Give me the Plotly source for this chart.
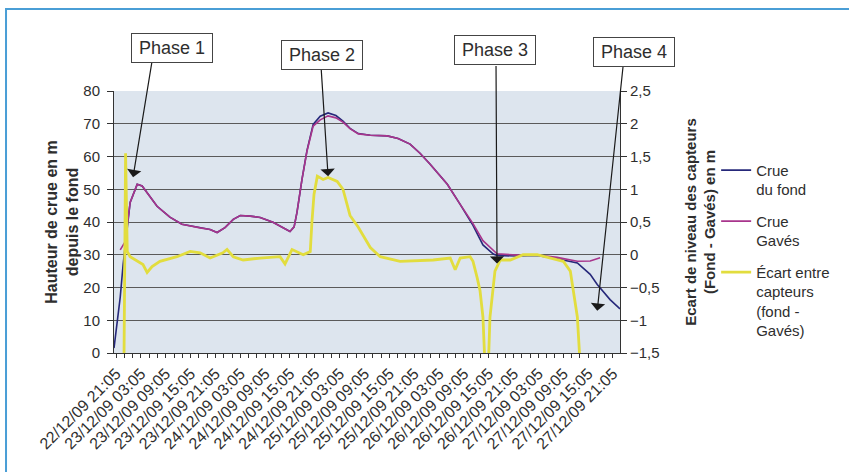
import plotly.graph_objects as go

# x positions: hours elapsed since 22/12/09 21:05
tick_labels = ["22/12/09 21:05", "23/12/09 03:05", "23/12/09 09:05", "23/12/09 15:05",
               "23/12/09 21:05", "24/12/09 03:05", "24/12/09 09:05", "24/12/09 15:05",
               "24/12/09 21:05", "25/12/09 03:05", "25/12/09 09:05", "25/12/09 15:05",
               "25/12/09 21:05", "26/12/09 03:05", "26/12/09 09:05", "26/12/09 15:05",
               "26/12/09 21:05", "27/12/09 03:05", "27/12/09 09:05", "27/12/09 15:05",
               "27/12/09 21:05"]
tick_hours = [0, 6, 12, 18, 24, 30, 36, 42, 48, 54, 60, 66, 72, 78, 84, 90, 96, 102, 108, 114, 120]

hours_fond = [-0.5, 0.2, 1.0, 1.7, 2.2, 3.4, 5.1, 6.3, 9.9, 13.0, 15.9, 20.3, 22.7, 24.4, 26.3,
              28.3, 30.0, 32.4, 34.8, 37.9, 40.8, 42.0, 43.0, 43.7, 44.9, 46.1, 47.6, 49.3,
              51.2, 53.1, 54.8, 56.5, 58.5, 61.4, 65.5, 68.1, 71.0, 73.4, 75.8, 80.0, 83.1,
              86.2, 88.6, 91.1, 92.0, 96.9, 101.7, 106.5, 111.4, 114.5, 116.2, 119.3, 121.7]
crue_fond = [1.5, 8, 17, 27, 33, 46, 51.5, 51, 44.8, 41.5, 39.3, 38.2, 37.7, 36.8, 38.3,
             40.8, 42, 41.8, 41.4, 39.9, 38, 37.1, 38.5, 43, 53, 61.8, 69.8, 72.3,
             73.3, 72.5, 70.8, 68.6, 67, 66.5, 66.3, 65.5, 63.8, 61, 57.7, 51.5, 45.4,
             39, 33, 30.2, 29.8, 29.6, 29.8, 28.8, 27.5, 24, 20.9, 16.3, 13.5]

hours_gaves = [1.0, 2.2, 3.4, 5.1, 6.3, 9.9, 13.0, 15.9, 20.3, 22.7, 24.4, 26.3, 28.3, 30.0,
               32.4, 34.8, 37.9, 40.8, 42.0, 43.0, 43.7, 44.9, 46.1, 47.6, 49.3, 51.2, 53.1,
               54.8, 56.5, 58.5, 61.4, 65.5, 68.1, 71.0, 73.4, 75.8, 80.0, 83.1, 86.2, 88.6,
               91.1, 92.0, 96.9, 101.7, 106.5, 111.4, 114.5, 116.9]
crue_gaves = [31.5, 34, 46, 51.5, 51, 44.8, 41.5, 39.3, 38.2, 37.7, 36.8, 38.3, 40.8, 42,
              41.8, 41.4, 39.9, 38, 37.1, 38.5, 43, 53, 61.6, 69.3, 71.2, 72.4, 71.8,
              70.5, 68.5, 66.9, 66.5, 66.3, 65.5, 63.8, 61, 57.7, 51.5, 45.4, 39.5, 34.3,
              31.2, 30.3, 29.9, 29.9, 29.2, 28.0, 28.1, 29.1]

hours_ecart = [1.9, 2.3, 2.7, 3.4, 6.5, 7.5, 8.7, 10.6, 14.7, 17.9, 20.3, 22.7, 25.8, 26.8,
               28.3, 30.7, 34.8, 39.6, 40.8, 42.5, 45.2, 46.9, 47.3, 47.8, 48.6, 50.0, 51.2,
               53.4, 54.8, 56.5, 58.5, 60.1, 61.4, 63.8, 68.6, 76.6, 80.7, 81.9, 83.1, 85.5,
               86.2, 87.2, 87.9, 88.6, 89.1, 89.9, 90.3, 91.5, 92.8, 95.2, 98.3, 101.7,
               104.8, 108.0, 109.7, 111.4, 112.1]
ecart = [-1.7, 1.55, 0.05, -0.03, -0.15, -0.27, -0.18, -0.1, -0.03, 0.05, 0.03, -0.05, 0.03,
         0.08, -0.03, -0.08, -0.05, -0.03, -0.14, 0.08, 0.0, 0.05, 0.5, 0.92, 1.2, 1.15, 1.18,
         1.12, 1.0, 0.6, 0.42, 0.25, 0.11, -0.03, -0.1, -0.08, -0.05, -0.23, -0.05, -0.03,
         -0.1, -0.35, -0.55, -0.95, -1.7, -1.7, -0.95, -0.25, -0.08, -0.08, 0.0, 0.0,
         -0.05, -0.1, -0.25, -0.95, -1.7]

phase_labels = ["Phase 1", "Phase 2", "Phase 3", "Phase 4"]
phase_tip_hours = [4.1, 51.2, 92.0, 116.2]
phase_tip_values = [53.7, 54.0, 27.3, 12.9]

FONT = "Liberation Sans, Arial, sans-serif"
TXT = "#2e2e2e"

fig = go.Figure()
fig.add_trace(go.Scatter(x=hours_fond, y=crue_fond, mode="lines", name="Crue<br>du fond",
                         legendgroup="a", line=dict(color="#26287a", width=1.6)))
fig.add_trace(go.Scatter(x=hours_gaves, y=crue_gaves, mode="lines", name="Crue<br>Gavés",
                         legendgroup="b", line=dict(color="#a8358c", width=1.6)))
fig.add_trace(go.Scatter(x=hours_ecart, y=ecart, mode="lines",
                         name="Écart entre<br>capteurs<br>(fond -<br>Gavés)", legendgroup="c",
                         line=dict(color="#e2dd3e", width=2.8), yaxis="y2"))

# Phase boxes (paper coords) and arrows (data tip, pixel tail offsets)
box_pos = [(0.1146, 1.166), (0.412, 1.137), (0.753, 1.155), (1.027, 1.149)]
tails = [(19, -116), (-7, -109), (-1, -199), (26, -246)]
for lab, (bx, by), hx, vy, (ax, ay) in zip(phase_labels, box_pos, phase_tip_hours,
                                          phase_tip_values, tails):
    fig.add_annotation(x=hx, y=vy, xref="x", yref="y", text="", showarrow=True,
                       ax=ax, ay=ay, arrowhead=1, arrowsize=2, arrowwidth=1.2,
                       arrowcolor="#1a1a1a")
    fig.add_annotation(x=bx, y=by, xref="paper", yref="paper", xanchor="center",
                       yanchor="middle", text=lab, showarrow=False,
                       font=dict(family=FONT, size=18, color=TXT), bgcolor="white",
                       bordercolor="#444", borderwidth=1, borderpad=4, width=72, height=20)

# outer blue frame
fig.add_shape(type="rect", xref="paper", yref="paper", x0=-0.2134, x1=1.46, y0=-0.47, y1=1.313,
              line=dict(color="#4a9ed6", width=2), layer="below")

fig.update_layout(
    width=849, height=472,
    margin=dict(l=114, r=229, t=91, b=119),
    paper_bgcolor="white", plot_bgcolor="#dde5ee",
    font=dict(family=FONT, color=TXT, size=15),
    separators=", ",
    showlegend=True,
    legend=dict(x=1.19, y=0.76, xanchor="left", yanchor="top", bgcolor="rgba(0,0,0,0)",
                font=dict(family=FONT, size=15, color=TXT), valign="top",
                itemwidth=30, tracegroupgap=9),
    xaxis=dict(range=[-0.5, 121.7], tickmode="array", tickvals=tick_hours, ticktext=tick_labels,
               tickangle=-45, tickfont=dict(size=16, color=TXT), showgrid=False, zeroline=False,
               showline=True, linecolor="#333", linewidth=1, ticks="outside", ticklen=4,
               tickcolor="#333",
               minor=dict(tickmode="linear", tick0=0, dtick=2, ticks="outside", ticklen=4,
                          tickcolor="#333", showgrid=False)),
    yaxis=dict(range=[0, 80], dtick=10, tickfont=dict(size=15, color=TXT), showgrid=True,
               gridcolor="#5a5a5a", gridwidth=1, zeroline=False, showline=True,
               linecolor="#333", ticks="outside", ticklen=6, tickcolor="#333",
               ticklabelstandoff=4,
               title=dict(text="<b>Hauteur de crue en m<br>depuis le fond</b>",
                          font=dict(size=16, color=TXT), standoff=0)),
    yaxis2=dict(range=[-1.5, 2.5], dtick=0.5, overlaying="y", side="right",
                tickfont=dict(size=15, color=TXT), showgrid=False, zeroline=False,
                showline=True, linecolor="#333", ticks="outside", ticklen=6, tickcolor="#333",
                title=dict(text="<b>Ecart de niveau des capteurs<br>(Fond - Gavés) en m</b>",
                           font=dict(size=15, color=TXT), standoff=26)),
)

fig.write_html("out.html", config={"displayModeBar": False},
               post_script="document.body.style.margin='0';")
